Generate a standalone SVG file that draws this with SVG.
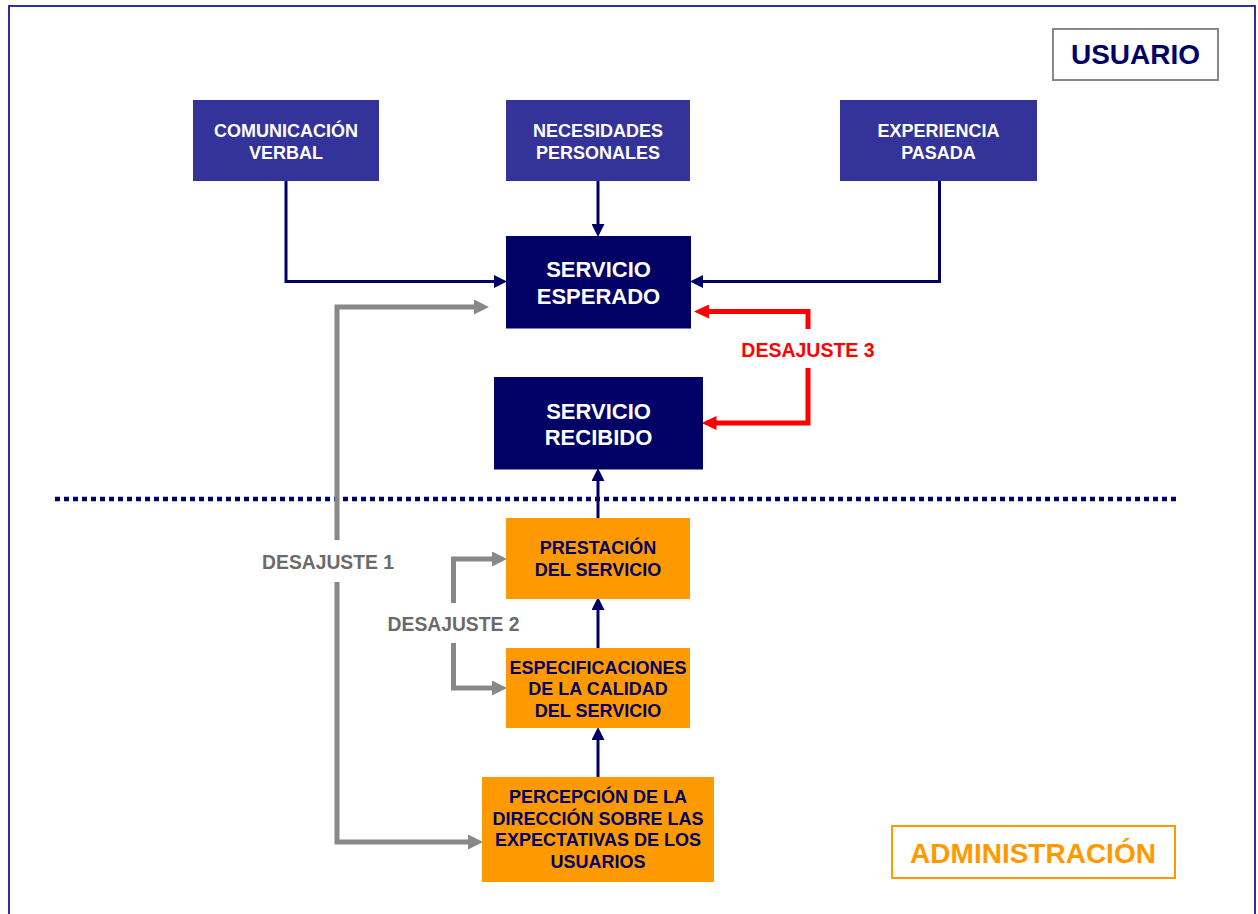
<svg xmlns="http://www.w3.org/2000/svg" width="1258" height="914" viewBox="0 0 1258 914">
<style>
text{font-family:"Liberation Sans",Arial,sans-serif;font-weight:bold;text-anchor:middle}
.top rect{fill:#333399}
.top text{fill:#ffffff;font-size:18px}
.dark rect{fill:#000066}
.dark text{fill:#ffffff;font-size:22px}
.org rect{fill:#ff9900}
.org text{fill:#000066;font-size:18px}
.nav{fill:none;stroke:#000066;stroke-width:3}
.gry{fill:none;stroke:#888888;stroke-width:5}
.red{fill:none;stroke:#ff0000;stroke-width:5}
.glbl{fill:#6a6a6a;font-size:19.3px}
.rlbl{fill:#ff0000;font-size:19.5px}
</style>
<defs>
<marker id="an" markerUnits="userSpaceOnUse" viewBox="0 0 13 13" refX="6" refY="6.5" markerWidth="13" markerHeight="13" orient="auto"><path d="M0,0 L13,6.5 L0,13 Z" fill="#000066"/></marker>
<marker id="ag" markerUnits="userSpaceOnUse" viewBox="0 0 15 15" refX="7" refY="7.5" markerWidth="15" markerHeight="15" orient="auto"><path d="M0,0 L15,7.5 L0,15 Z" fill="#888888"/></marker>
<marker id="ar" markerUnits="userSpaceOnUse" viewBox="0 0 15 14" refX="7" refY="7" markerWidth="15" markerHeight="14" orient="auto"><path d="M0,0 L15,7 L0,14 Z" fill="#ff0000"/></marker>
</defs>
<rect x="0" y="0" width="1258" height="914" fill="#ffffff"/>
<rect x="9" y="6" width="1246" height="920" fill="none" stroke="#2e2ea3" stroke-width="2"/>

<g id="connectors">
<path class="nav" d="M286,181 V281.5 H500" marker-end="url(#an)"/>
<path class="nav" d="M598,181 V230" marker-end="url(#an)"/>
<path class="nav" d="M939.5,181 V281.5 H697" marker-end="url(#an)"/>
<path class="nav" d="M598,518 V475" marker-end="url(#an)"/>
<path class="nav" d="M598,648 V604" marker-end="url(#an)"/>
<path class="nav" d="M598,777 V734" marker-end="url(#an)"/>
<line x1="55" y1="499" x2="1177" y2="499" stroke="#000066" stroke-width="4.5" stroke-dasharray="5 4"/>
<path class="gry" d="M337,540 V307 H481" marker-end="url(#ag)"/>
<path class="gry" d="M337,582 V842 H475" marker-end="url(#ag)"/>
<path class="gry" d="M453.5,603 V559 H499" marker-end="url(#ag)"/>
<path class="gry" d="M453.5,643 V688 H499" marker-end="url(#ag)"/>
<path class="red" d="M808,329 V311.5 H702" marker-end="url(#ar)"/>
<path class="red" d="M808,368 V423 H709.5" marker-end="url(#ar)"/>
<text class="glbl" x="328" y="569">DESAJUSTE 1</text>
<text class="glbl" x="453.5" y="631">DESAJUSTE 2</text>
<text class="rlbl" x="808" y="357">DESAJUSTE 3</text>
</g>

<g id="usuario">
<rect x="1053" y="29" width="165" height="51" fill="#ffffff" stroke="#888888" stroke-width="2"/>
<text x="1135.5" y="63.5" fill="#000066" font-size="28">USUARIO</text>
</g>
<g id="administracion">
<rect x="892" y="826" width="283" height="52" fill="#ffffff" stroke="#ff9900" stroke-width="2"/>
<text x="1033" y="862.5" fill="#ff9900" font-size="28">ADMINISTRACIÓN</text>
</g>

<g id="comunicacion" class="top">
<rect x="193" y="100" width="186" height="81"/>
<text x="286" y="137">COMUNICACIÓN</text>
<text x="286" y="158.5">VERBAL</text>
</g>
<g id="necesidades" class="top">
<rect x="506" y="100" width="184" height="81"/>
<text x="598" y="137">NECESIDADES</text>
<text x="598" y="158.5">PERSONALES</text>
</g>
<g id="experiencia" class="top">
<rect x="840" y="100" width="197" height="81"/>
<text x="938.5" y="137">EXPERIENCIA</text>
<text x="938.5" y="158.5">PASADA</text>
</g>
<g id="esperado" class="dark">
<rect x="506" y="236" width="185" height="92.5"/>
<text x="598.5" y="277">SERVICIO</text>
<text x="598.5" y="303.5">ESPERADO</text>
</g>
<g id="recibido" class="dark">
<rect x="494" y="377" width="209" height="92.5"/>
<text x="598.5" y="418.5">SERVICIO</text>
<text x="598.5" y="445">RECIBIDO</text>
</g>
<g id="prestacion" class="org">
<rect x="506" y="518" width="184" height="81"/>
<text x="598" y="554">PRESTACIÓN</text>
<text x="598" y="576">DEL SERVICIO</text>
</g>
<g id="especificaciones" class="org">
<rect x="506" y="648" width="184" height="80"/>
<text x="598" y="673.5">ESPECIFICACIONES</text>
<text x="598" y="695">DE LA CALIDAD</text>
<text x="598" y="716.5">DEL SERVICIO</text>
</g>
<g id="percepcion" class="org">
<rect x="482" y="777" width="232" height="105"/>
<text x="598" y="803">PERCEPCIÓN DE LA</text>
<text x="598" y="824.5">DIRECCIÓN SOBRE LAS</text>
<text x="598" y="846">EXPECTATIVAS DE LOS</text>
<text x="598" y="868">USUARIOS</text>
</g>
</svg>
